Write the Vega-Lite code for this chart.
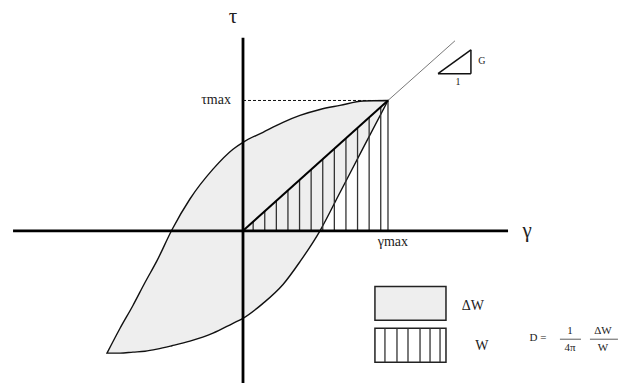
{
  "$schema": "https://vega.github.io/schema/vega-lite/v6.json",
  "width": 622,
  "height": 385,
  "autosize": {"type": "fit", "contains": "padding"},
  "padding": 0,
  "background": "white",
  "config": {"view": {"stroke": null}, "text": {"font": "Liberation Serif", "color": "#222"}},
  "datasets": {
    "loop": [
      {"x": -0.938, "y": -0.939, "lo": -0.939},
      {"x": -0.848, "y": -0.748, "lo": -0.939},
      {"x": -0.759, "y": -0.573, "lo": -0.931},
      {"x": -0.676, "y": -0.397, "lo": -0.924},
      {"x": -0.593, "y": -0.229, "lo": -0.908},
      {"x": -0.490, "y": 0.008, "lo": -0.882},
      {"x": -0.366, "y": 0.244, "lo": -0.847},
      {"x": -0.207, "y": 0.473, "lo": -0.786},
      {"x": -0.069, "y": 0.626, "lo": -0.710},
      {"x": 0.0, "y": 0.679, "lo": -0.672},
      {"x": 0.138, "y": 0.756, "lo": -0.557},
      {"x": 0.276, "y": 0.832, "lo": -0.412},
      {"x": 0.393, "y": 0.885, "lo": -0.237},
      {"x": 0.531, "y": 0.931, "lo": 0.0},
      {"x": 0.669, "y": 0.962, "lo": 0.294},
      {"x": 0.828, "y": 0.996, "lo": 0.634},
      {"x": 1.0, "y": 1.0, "lo": 1.0}
    ],
    "hatch": [
      {"x": 0.07, "y": 0, "y2": 0.07},
      {"x": 0.15, "y": 0, "y2": 0.15},
      {"x": 0.23, "y": 0, "y2": 0.23},
      {"x": 0.31, "y": 0, "y2": 0.31},
      {"x": 0.39, "y": 0, "y2": 0.39},
      {"x": 0.47, "y": 0, "y2": 0.47},
      {"x": 0.55, "y": 0, "y2": 0.55},
      {"x": 0.63, "y": 0, "y2": 0.63},
      {"x": 0.71, "y": 0, "y2": 0.71},
      {"x": 0.79, "y": 0, "y2": 0.79},
      {"x": 0.87, "y": 0, "y2": 0.87},
      {"x": 0.95, "y": 0, "y2": 0.95},
      {"x": 1.0, "y": 0, "y2": 1.0}
    ],
    "segs": [
      {"part": "axis", "x": -1.586, "y": 0, "x2": 1.828, "y2": 0},
      {"part": "axis", "x": 0, "y": 1.481, "x2": 0, "y2": -1.168},
      {"part": "secant", "x": 0, "y": 0, "x2": 1, "y2": 1},
      {"part": "ext", "x": 1, "y": 1, "x2": 1.462, "y2": 1.458},
      {"part": "dash", "x": 0, "y": 1, "x2": 1, "y2": 1},
      {"part": "tri", "x": 1.345, "y": 1.206, "x2": 1.572, "y2": 1.206},
      {"part": "tri", "x": 1.572, "y": 1.206, "x2": 1.572, "y2": 1.389},
      {"part": "tri", "x": 1.345, "y": 1.206, "x2": 1.572, "y2": 1.389},
      {"part": "leg", "x": 0.979, "y": -0.748, "x2": 0.979, "y2": -1.008},
      {"part": "leg", "x": 1.062, "y": -0.748, "x2": 1.062, "y2": -1.008},
      {"part": "leg", "x": 1.138, "y": -0.748, "x2": 1.138, "y2": -1.008},
      {"part": "leg", "x": 1.221, "y": -0.748, "x2": 1.221, "y2": -1.008},
      {"part": "leg", "x": 1.290, "y": -0.748, "x2": 1.290, "y2": -1.008},
      {"part": "leg", "x": 1.359, "y": -0.748, "x2": 1.359, "y2": -1.008},
      {"part": "bar", "x": 2.186, "y": -0.832, "x2": 2.331, "y2": -0.832},
      {"part": "bar", "x": 2.393, "y": -0.832, "x2": 2.586, "y2": -0.832}
    ],
    "boxes": [
      {"part": "dW", "x": 0.910, "y": -0.427, "x2": 1.400, "y2": -0.687},
      {"part": "W", "x": 0.910, "y": -0.748, "x2": 1.400, "y2": -1.008}
    ],
    "labels": [
      {"g": "big", "x": -0.069, "y": 1.641, "text": "τ"},
      {"g": "big", "x": 1.959, "y": 0.0, "text": "γ"},
      {"g": "mid", "x": -0.186, "y": 1.0, "text": "τmax"},
      {"g": "mid", "x": 1.034, "y": -0.084, "text": "γmax"},
      {"g": "mid", "x": 1.586, "y": -0.58, "text": "ΔW"},
      {"g": "mid", "x": 1.648, "y": -0.885, "text": "W"},
      {"g": "small", "x": 1.648, "y": 1.305, "text": "G"},
      {"g": "small", "x": 1.483, "y": 1.145, "text": "1"},
      {"g": "form", "x": 2.034, "y": -0.824, "text": "D ="},
      {"g": "form", "x": 2.255, "y": -0.771, "text": "1"},
      {"g": "form", "x": 2.255, "y": -0.901, "text": "4π"},
      {"g": "form", "x": 2.483, "y": -0.771, "text": "ΔW"},
      {"g": "form", "x": 2.483, "y": -0.901, "text": "W"}
    ]
  },
  "encoding": {
    "x": {"field": "x", "type": "quantitative", "scale": {"domain": [-1.676, 2.614], "nice": false, "zero": false}, "axis": null},
    "y": {"field": "y", "type": "quantitative", "scale": {"domain": [-1.168, 1.771], "nice": false, "zero": false}, "axis": null}
  },
  "layer": [
    {
      "data": {"name": "loop"},
      "mark": {"type": "area", "interpolate": "monotone", "fill": "#eeeeee", "stroke": "#111", "strokeWidth": 1.4},
      "encoding": {"y2": {"field": "lo"}}
    },
    {
      "data": {"name": "hatch"},
      "mark": {"type": "rule", "stroke": "#333", "strokeWidth": 1.3},
      "encoding": {"y2": {"field": "y2"}}
    },
    {
      "data": {"name": "segs"},
      "transform": [{"filter": "datum.part === 'axis'"}],
      "mark": {"type": "rule", "stroke": "#000", "strokeWidth": 2.8},
      "encoding": {"x2": {"field": "x2"}, "y2": {"field": "y2"}}
    },
    {
      "data": {"name": "segs"},
      "transform": [{"filter": "datum.part === 'secant'"}],
      "mark": {"type": "rule", "stroke": "#000", "strokeWidth": 2},
      "encoding": {"x2": {"field": "x2"}, "y2": {"field": "y2"}}
    },
    {
      "data": {"name": "segs"},
      "transform": [{"filter": "datum.part === 'ext'"}],
      "mark": {"type": "rule", "stroke": "#555", "strokeWidth": 0.8},
      "encoding": {"x2": {"field": "x2"}, "y2": {"field": "y2"}}
    },
    {
      "data": {"name": "segs"},
      "transform": [{"filter": "datum.part === 'dash'"}],
      "mark": {"type": "rule", "stroke": "#111", "strokeWidth": 1, "strokeDash": [3, 2]},
      "encoding": {"x2": {"field": "x2"}, "y2": {"field": "y2"}}
    },
    {
      "data": {"name": "segs"},
      "transform": [{"filter": "datum.part === 'tri'"}],
      "mark": {"type": "rule", "stroke": "#111", "strokeWidth": 1.5},
      "encoding": {"x2": {"field": "x2"}, "y2": {"field": "y2"}}
    },
    {
      "data": {"name": "boxes"},
      "mark": {"type": "rect", "stroke": "#222", "strokeWidth": 1.5},
      "encoding": {
        "x2": {"field": "x2"},
        "y2": {"field": "y2"},
        "fill": {"field": "part", "type": "nominal", "scale": {"domain": ["dW", "W"], "range": ["#eeeeee", "#ffffff"]}, "legend": null}
      }
    },
    {
      "data": {"name": "segs"},
      "transform": [{"filter": "datum.part === 'leg'"}],
      "mark": {"type": "rule", "stroke": "#333", "strokeWidth": 1.3},
      "encoding": {"x2": {"field": "x2"}, "y2": {"field": "y2"}}
    },
    {
      "data": {"name": "segs"},
      "transform": [{"filter": "datum.part === 'bar'"}],
      "mark": {"type": "rule", "stroke": "#333", "strokeWidth": 0.8},
      "encoding": {"x2": {"field": "x2"}, "y2": {"field": "y2"}}
    },
    {
      "data": {"name": "labels"},
      "transform": [{"filter": "datum.g === 'big'"}],
      "mark": {"type": "text", "fontSize": 21, "baseline": "middle", "align": "center"},
      "encoding": {"text": {"field": "text"}}
    },
    {
      "data": {"name": "labels"},
      "transform": [{"filter": "datum.g === 'mid'"}],
      "mark": {"type": "text", "fontSize": 14, "baseline": "middle", "align": "center"},
      "encoding": {"text": {"field": "text"}}
    },
    {
      "data": {"name": "labels"},
      "transform": [{"filter": "datum.g === 'form'"}],
      "mark": {"type": "text", "fontSize": 11, "baseline": "middle", "align": "center"},
      "encoding": {"text": {"field": "text"}}
    },
    {
      "data": {"name": "labels"},
      "transform": [{"filter": "datum.g === 'small'"}],
      "mark": {"type": "text", "fontSize": 10, "baseline": "middle", "align": "center"},
      "encoding": {"text": {"field": "text"}}
    }
  ]
}
